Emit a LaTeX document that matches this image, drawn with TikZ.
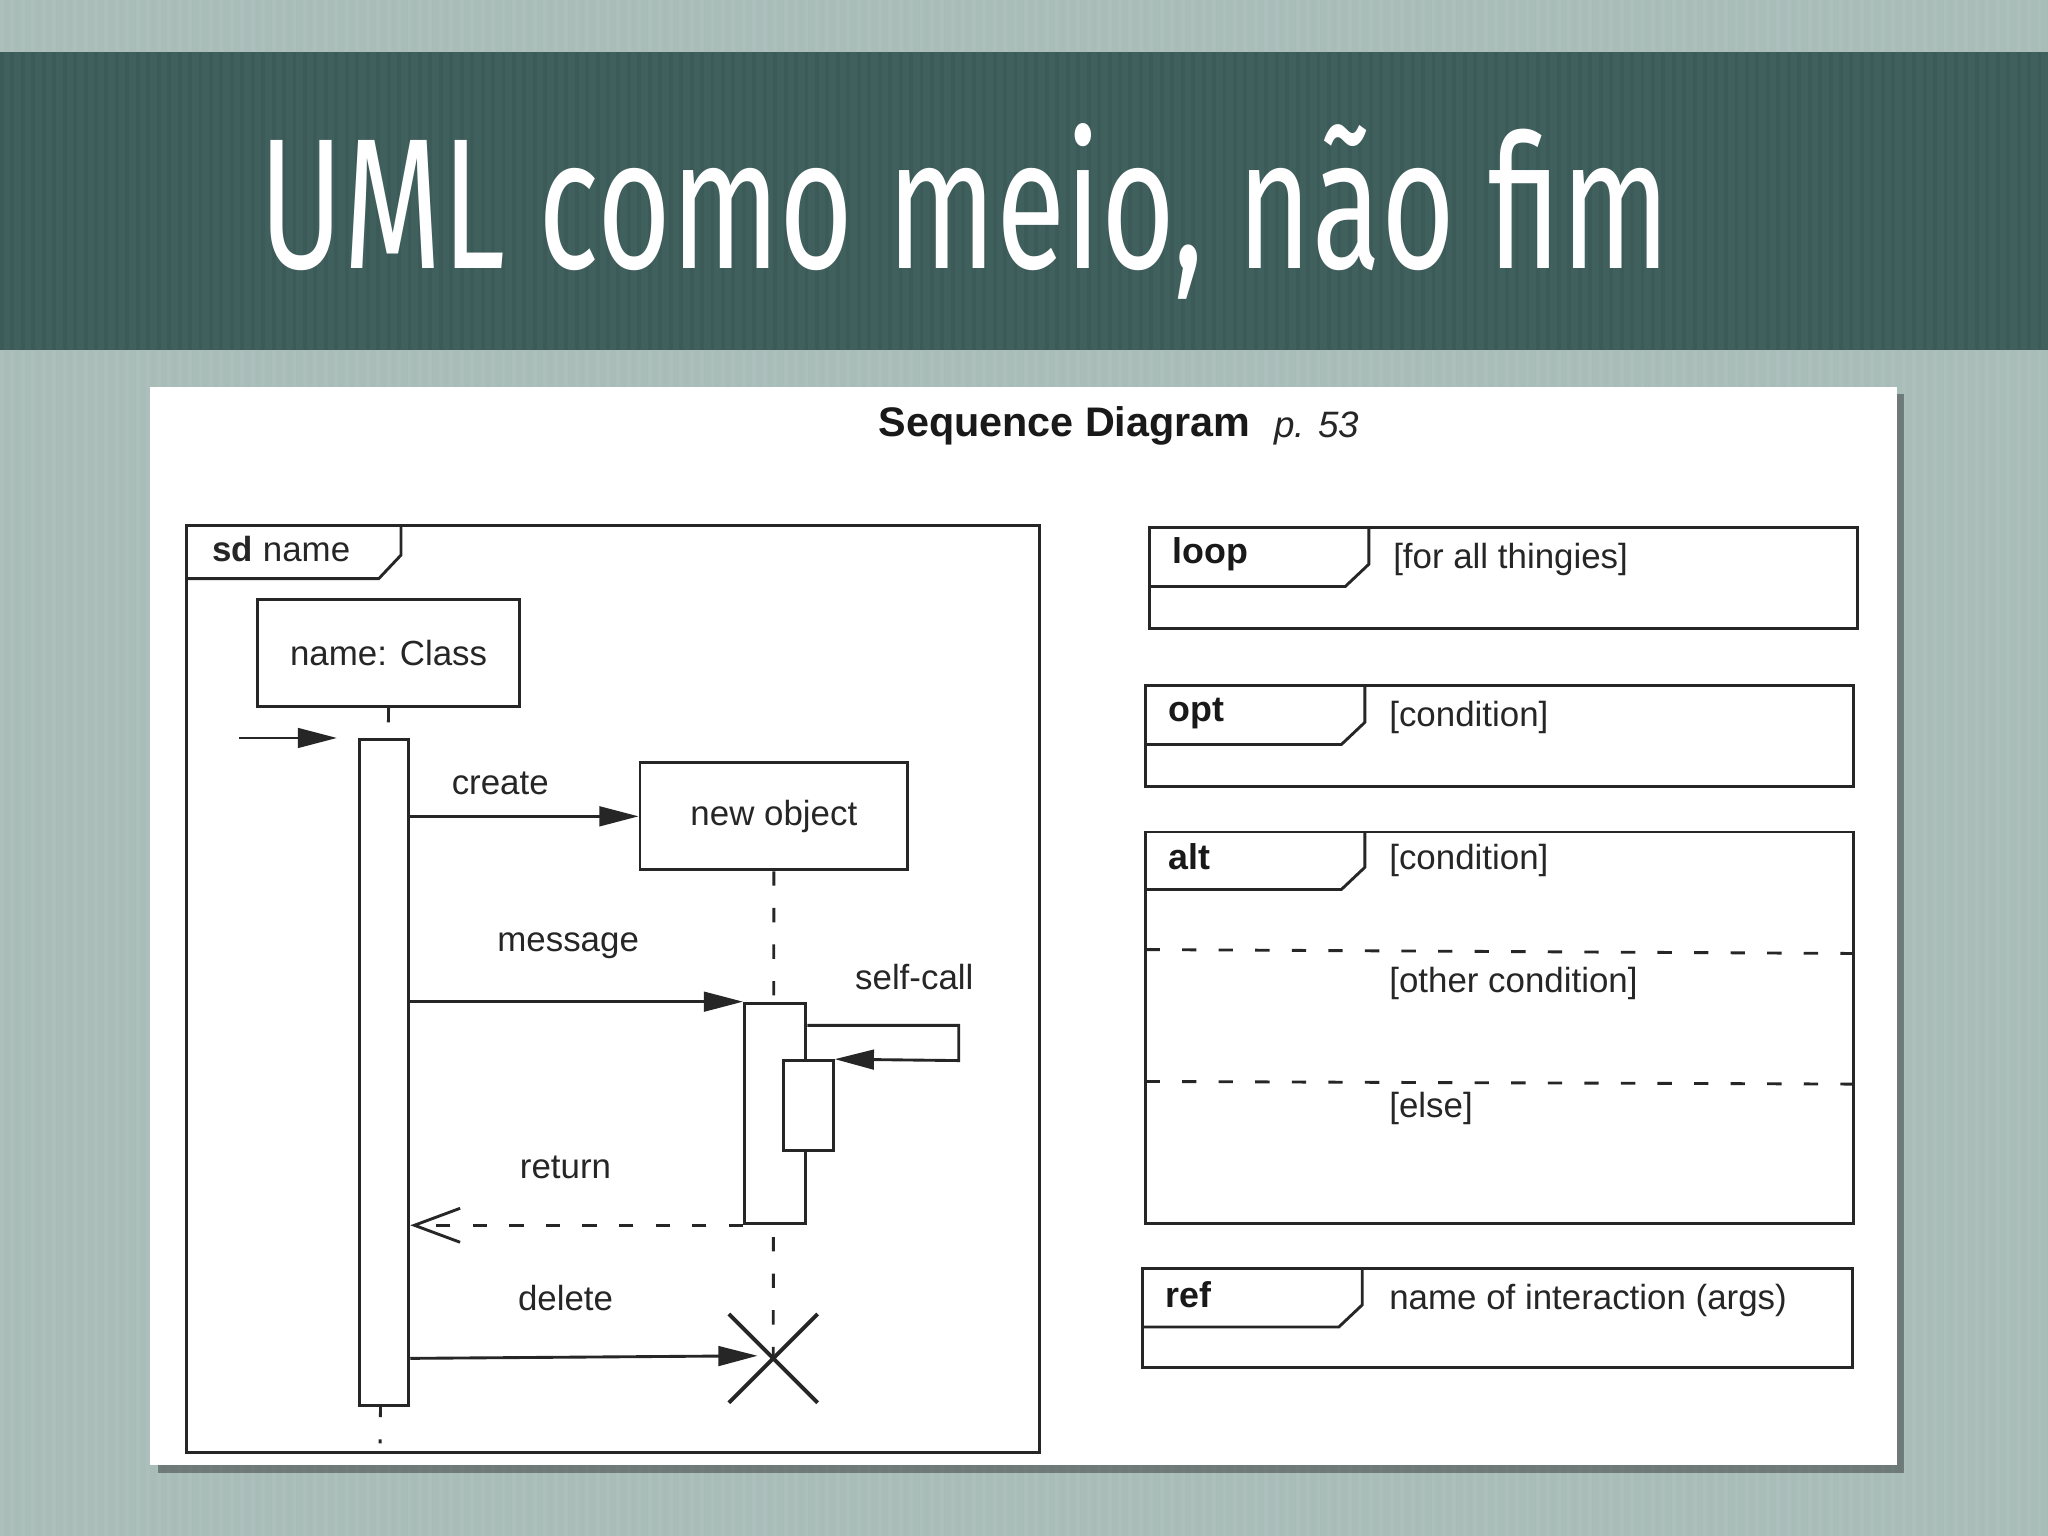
\documentclass[tikz,border=0pt]{standalone}
\usepackage{fontspec}
\setmainfont{Liberation Sans}
\newfontfamily\titlefont{Fira Sans}
\usetikzlibrary{arrows.meta,calc}
\begin{document}
\begin{tikzpicture}[x=0.1mm,y=-0.1mm,
  ln/.style={line width=0.22mm,black!85},
  txt/.style={font=\fontsize{7.6pt}{9pt}\selectfont,text=black!85,inner sep=0},
  btxt/.style={font=\fontsize{7.8pt}{9pt}\selectfont\bfseries,text=black!90,inner sep=0},
  fa/.style={-{Triangle[length=3mm,width=1.5mm]}},
  dl/.style={dash pattern=on 1.1mm off 1.7mm},
  fbox/.style={ln,draw,fill=white,inner sep=0}]
\useasboundingbox (0,0) rectangle (1568,1176);
\fill[fill={rgb,255:red,168;green,188;blue,184}] (0,0) rectangle (1568,1176);
\foreach \i in {0,8,...,1560}{\fill[white,opacity=0.06] (\i,0) rectangle (\i+3,1176);}
\fill[fill={rgb,255:red,64;green,96;blue,94}] (0,40) rectangle (1568,268);
\foreach \i in {0,8,...,1560}{\fill[black,opacity=0.06] (\i,40) rectangle (\i+3,268);}
\node[anchor=north west,inner sep=0,text=white] (title) at (198,94)
  {\resizebox{108mm}{11.1mm}{\titlefont UML como meio, não fim}};
% panel
\fill[black,opacity=0.35] (121,302) rectangle (1458,1128);
\fill[white] (115,296) rectangle (1452,1122);
\node[btxt,font=\fontsize{9pt}{10pt}\selectfont\bfseries] (hd) at (815,326) {Sequence Diagram};
\node[txt,font=\fontsize{8pt}{9pt}\selectfont\itshape] (pg) at (1008,328) {p. 53};
% sd frame
\draw[ln] (143,402) rectangle (796,1112);
\draw[ln] (143,443) -- (290,443) -- (307,425) -- (307,402);
\node[txt,anchor=west] (sdl) at (162,420) {\textbf{sd} name};
\node[fbox,minimum width=20.1mm,minimum height=8.2mm] (cls) at (297.5,500) {};
\node[txt] at (cls) {name: Class};
\coordinate (l1e) at (291,1105);
\draw[ln,dl] (cls.south) -- (l1e);
\node[fbox,minimum width=3.8mm,minimum height=51mm] (act1) at (294,821) {};
\coordinate (fs) at (183,565);
\draw[ln,fa] (fs) -- (258,565);
\node[fbox,minimum width=20.5mm,minimum height=8.2mm] (nob) at (592.5,625) {};
\node[txt] at (nob) {new object};
\draw[ln,fa] (act1.east|-nob.west) -- (nob.west);
\node[txt] (cr) at (383,600) {create};
\coordinate (xc) at (592,1040);
\draw[ln,dl] (nob.south) -- (xc);
\node[fbox,minimum width=4.7mm,minimum height=16.9mm] (act2) at (593.5,852.5) {};
\draw[ln,fa] (act1.east|-act2.north west) -- (act2.north west);
\node[txt] (msg) at (435,724) {message};
\node[fbox,minimum width=3.8mm,minimum height=6.9mm] (act3) at (619,846.5) {};
\coordinate (sc1) at (734,785);
\coordinate (sc2) at (734,812);
\draw[ln,fa] (act2.east|-sc1) -- (sc1) -- (sc2) -- (act3.north east);
\node[txt] (slf) at (700,748) {self-call};
\draw[ln,dl,-{Straight Barb[length=3.5mm,width=2.6mm]}] (act2.south west) -- (act1.east|-act2.south west);
\node[txt] (ret) at (433,894) {return};
\draw[ln,-{Triangle[length=3mm,width=1.5mm]}] (act1.east|-xc) -- (580,1038);
\node[txt] (del) at (433,994) {delete};
\draw[ln,line width=0.3mm] ($(xc)+(-34,-34)$) -- ($(xc)+(34,34)$) ($(xc)+(-34,34)$) -- ($(xc)+(34,-34)$);
% combined fragments
\newcommand\frag[6]{% x1,y1,x2,y2,tagx,tagy
  \draw[ln] (#1,#2) rectangle (#3,#4);
  \draw[ln] (#1,#6) -- (#5-18,#6) -- (#5,#6-17) -- (#5,#2);}
\frag{880}{404}{1422}{481}{1048}{449}
\node[btxt,anchor=west] (lp) at (897,424) {loop};
\node[txt,anchor=west] (lpc) at (1066,428) {[for all thingies]};
\frag{877}{525}{1419}{602}{1045}{570}
\node[btxt,anchor=west] (op) at (894,546) {opt};
\node[txt,anchor=west] (opc) at (1063,549) {[condition]};
\frag{877}{637}{1419}{937}{1045}{681}
\node[btxt,anchor=west] (al) at (894,656) {alt};
\node[txt,anchor=west] (alc) at (1063,659) {[condition]};
\draw[ln,dl] (877,727) -- (1419,730);
\draw[ln,dl] (877,828) -- (1419,830);
\node[txt,anchor=west] (alc2) at (1063,753) {[other condition]};
\node[txt,anchor=west] (alc3) at (1063,849) {[else]};
\frag{875}{971}{1418}{1047}{1043}{1016}
\node[btxt,anchor=west] (rf) at (892,991) {ref};
\node[txt,anchor=west] (rfc) at (1063,996) {name of interaction (args)};
\end{tikzpicture}
\end{document}
